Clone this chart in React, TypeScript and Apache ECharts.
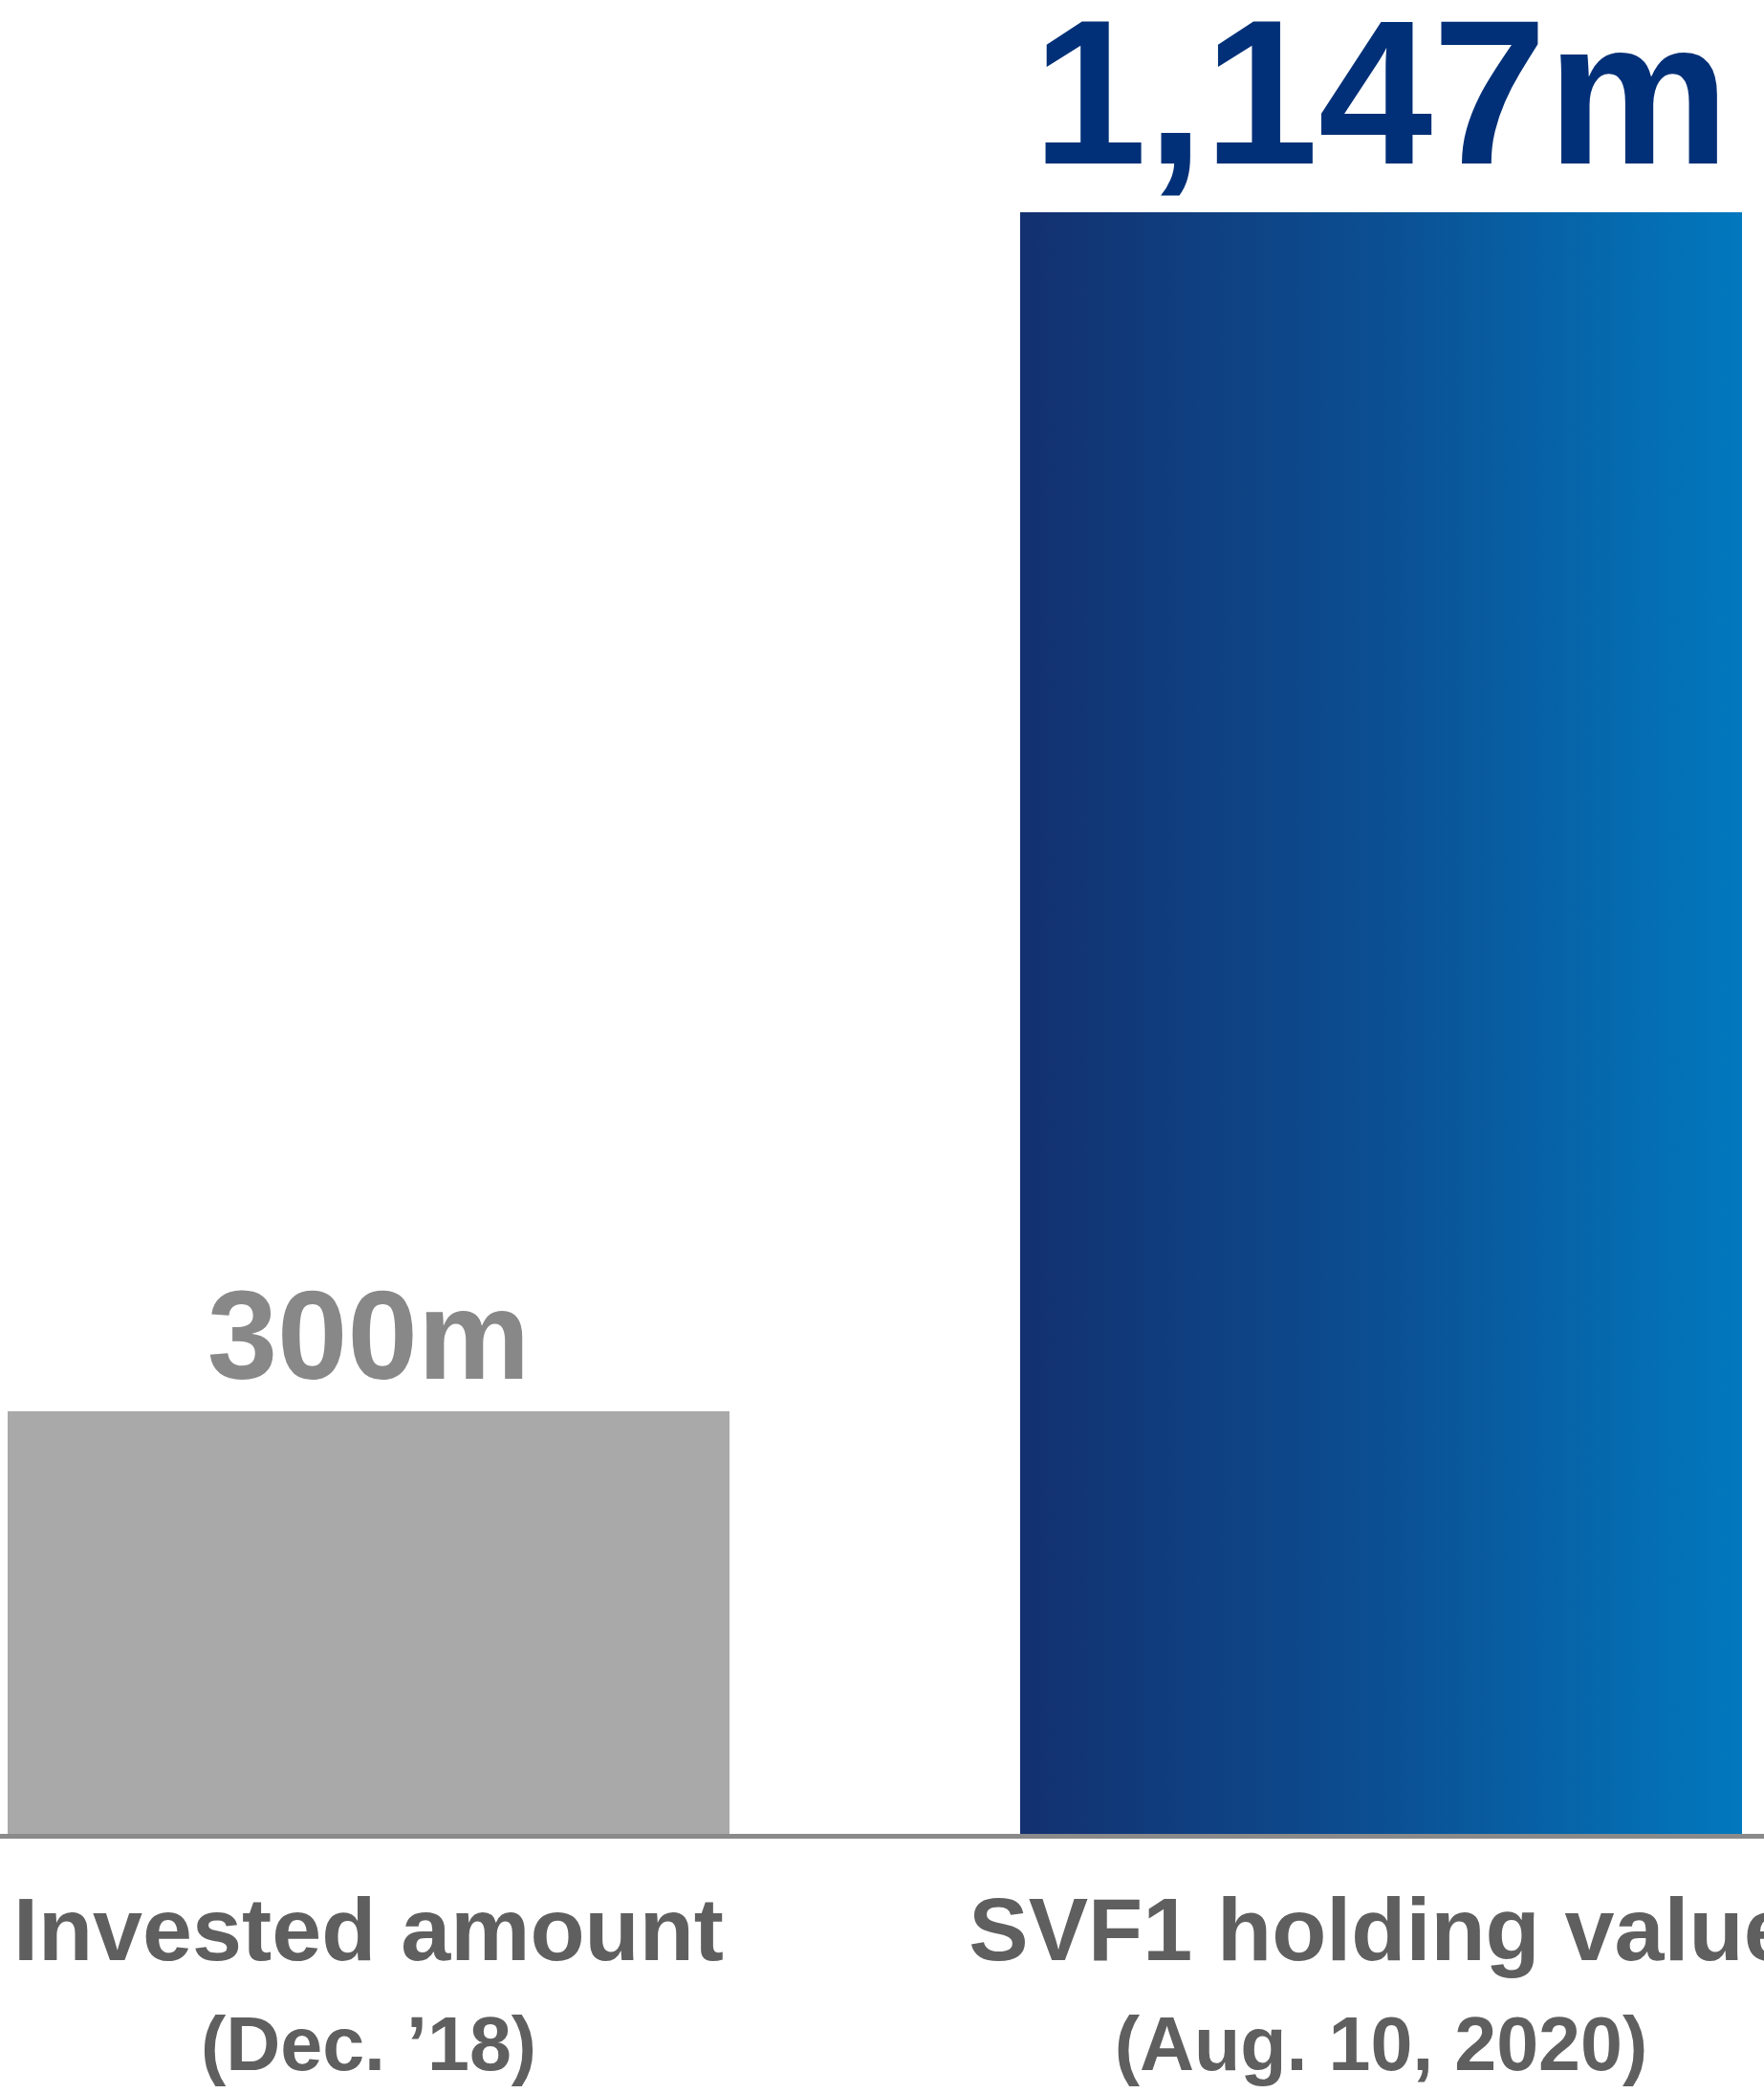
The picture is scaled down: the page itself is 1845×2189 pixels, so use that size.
import React, { useEffect, useRef } from "react";
import * as echarts from "echarts";

const categories = ["Invested amount", "SVF1 holding value"];
const subLabels = ["(Dec. \u201918)", "(Aug. 10, 2020)"];
const values = [300, 1147];
const valueUnit = "m";

const FONT = "'Liberation Sans', Arial, Helvetica, sans-serif";

export default function App() {
  const ref = useRef<HTMLDivElement>(null);

  useEffect(() => {
    if (!ref.current) return;
    const chart = echarts.init(ref.current, null, { renderer: "svg" });

    const grayStyle = { color: "#a9a9a9" };
    const blueStyle = {
      color: new echarts.graphic.LinearGradient(0, 0, 1, 0, [
        { offset: 0, color: "#13306f" },
        { offset: 0.5, color: "#0b4f92" },
        { offset: 1, color: "#0278be" },
      ]),
    };

    const data = values.map((v, i) => ({
      value: v,
      itemStyle: i === 0 ? grayStyle : blueStyle,
      label:
        i === 0
          ? { fontSize: 132, color: "#888888", distance: 13 }
          : { fontSize: 215, color: "#023078", distance: 18 },
    }));

    chart.setOption({
      animation: false,
      backgroundColor: "#ffffff",
      grid: { left: 0, right: 0, top: 222, bottom: 269, containLabel: false },
      xAxis: {
        type: "category",
        data: categories,
        z: 10,
        axisLine: { show: true, lineStyle: { color: "#8a8a8a", width: 5 } },
        axisTick: { show: false },
        axisLabel: {
          interval: 0,
          margin: 40,
          formatter: (val: string, idx: number) => `{a|${val}}\n{b|${subLabels[idx]}}`,
          rich: {
            a: { fontSize: 93.5, fontWeight: "bold", color: "#5f5f5f", fontFamily: FONT, lineHeight: 115 },
            b: { fontSize: 79, fontWeight: "bold", color: "#5f5f5f", fontFamily: FONT, lineHeight: 125 },
          },
        },
      },
      yAxis: {
        type: "value",
        min: 0,
        max: 1147,
        show: false,
        splitLine: { show: false },
      },
      series: [
        {
          type: "bar",
          data,
          barWidth: 755,
          label: {
            show: true,
            position: "top",
            fontWeight: "bold",
            fontFamily: FONT,
            formatter: (p: any) => `${Number(p.value).toLocaleString("en-US")}${valueUnit}`,
          },
        },
      ],
    });

    return () => chart.dispose();
  }, []);

  return (
    <div
      style={{
        position: "absolute",
        left: 0,
        top: 0,
        width: 1845,
        height: 2189,
        overflow: "hidden",
        background: "#fff",
      }}
    >
      <div
        ref={ref}
        style={{ position: "absolute", left: -144, top: 0, width: 2118, height: 2189 }}
      />
    </div>
  );
}
